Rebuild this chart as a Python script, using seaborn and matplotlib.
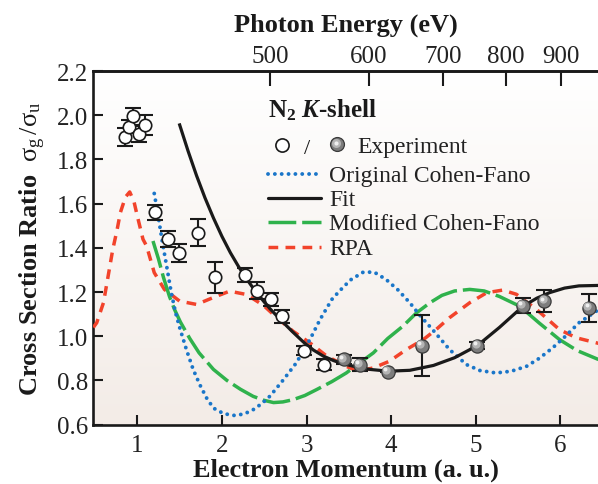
import numpy as np
import matplotlib
matplotlib.use("Agg")
import matplotlib.pyplot as plt
import matplotlib.transforms as mtrans
import seaborn as sns

# ---------------- data ----------------
open_k = [0.86, 0.90, 0.945, 1.015, 1.086, 1.212, 1.362, 1.487, 1.716, 1.92,
          2.274, 2.42, 2.577, 2.71, 2.97, 3.21]
open_v = [1.90, 1.948, 1.995, 1.915, 1.955, 1.56, 1.439, 1.378, 1.469, 1.268,
          1.277, 1.207, 1.167, 1.09, 0.935, 0.872]
open_err = [0.04, 0.03, 0.037, 0.038, 0.044, 0.036, 0.035, 0.04, 0.06, 0.07,
            0.03, 0.04, 0.03, 0.03, 0.02, 0.025]

filled_k = [3.44, 3.63, 3.96, 4.36, 5.02, 5.556, 5.81, 6.34]
filled_v = [0.895, 0.872, 0.839, 0.958, 0.958, 1.139, 1.159, 1.129]
filled_err = [0.02, 0.03, 0.0, 0.138, 0.015, 0.035, 0.05, 0.063]

fit_k = [1.495, 1.6, 1.7, 1.8, 1.9, 2.0, 2.1, 2.2, 2.27, 2.35, 2.42, 2.5,
         2.567, 2.705, 2.83, 2.96, 3.08, 3.2, 3.32, 3.43, 3.6, 3.75, 3.97,
         4.22, 4.5, 4.75, 5.02, 5.28, 5.556, 5.72, 5.87, 6.05, 6.22, 6.45]
fit_v = [1.963, 1.838, 1.727, 1.626, 1.535, 1.452, 1.378, 1.313, 1.272, 1.228,
         1.193, 1.155, 1.125, 1.07, 1.022, 0.975, 0.938, 0.91, 0.89, 0.876,
         0.86, 0.85, 0.842, 0.846, 0.868, 0.903, 0.958, 1.04, 1.135, 1.172,
         1.197, 1.218, 1.228, 1.23]

ocf_k = [1.20, 1.24, 1.29, 1.35, 1.40, 1.45, 1.50, 1.58, 1.66, 1.74, 1.82, 1.90,
         2.02, 2.14, 2.26, 2.37, 2.47, 2.57, 2.72, 2.88, 3.04, 3.16, 3.30, 3.39,
         3.52, 3.67, 3.80, 3.94, 4.08, 4.22, 4.35, 4.49, 4.69, 4.89, 5.05, 5.24,
         5.42, 5.60, 5.75, 5.91, 6.06, 6.22, 6.45]
ocf_v = [1.646, 1.56, 1.44, 1.31, 1.20, 1.11, 1.04, 0.94, 0.85, 0.78, 0.72,
         0.675, 0.65, 0.642, 0.648, 0.668, 0.695, 0.73, 0.80, 0.88, 0.985,
         1.076, 1.167, 1.205, 1.255, 1.29, 1.29, 1.257, 1.21, 1.152, 1.09,
         1.03, 0.94, 0.872, 0.845, 0.834, 0.842, 0.864, 0.90, 0.948, 1.0,
         1.061, 1.12]

mcf_k = [1.185, 1.25, 1.31, 1.38, 1.44, 1.51, 1.62, 1.73, 1.90, 2.06, 2.22,
         2.37, 2.50, 2.61, 2.72, 2.84, 2.98, 3.12, 3.30, 3.47, 3.63, 3.79, 3.96,
         4.14, 4.30, 4.46, 4.60, 4.75, 4.93, 5.10, 5.28, 5.52, 5.75, 5.99, 6.20,
         6.45]
mcf_v = [1.431, 1.35, 1.265, 1.18, 1.121, 1.064, 0.99, 0.925, 0.85, 0.80, 0.76,
         0.728, 0.71, 0.70, 0.703, 0.713, 0.732, 0.759, 0.795, 0.834, 0.88,
         0.925, 0.99, 1.046, 1.106, 1.152, 1.185, 1.205, 1.212, 1.205, 1.18,
         1.136, 1.06, 0.985, 0.935, 0.895]

rpa_k = [0.48, 0.52, 0.60, 0.655, 0.71, 0.76, 0.80, 0.86, 0.91, 0.96, 1.0, 1.067,
         1.11, 1.2, 1.32, 1.5, 1.7, 1.89, 2.09, 2.29, 2.49, 2.65, 2.84, 3.04,
         3.24, 3.47, 3.61, 3.79, 3.98, 4.18, 4.38, 4.53, 4.69, 4.93, 5.13, 5.32,
         5.48, 5.72, 5.99, 6.19, 6.45]
rpa_v = [1.04, 1.061, 1.152, 1.272, 1.393, 1.48, 1.56, 1.63, 1.653, 1.61, 1.544,
         1.439, 1.408, 1.288, 1.212, 1.159, 1.144, 1.174, 1.204, 1.189, 1.14,
         1.084, 1.023, 0.97, 0.91, 0.864, 0.842, 0.857, 0.887, 0.94, 0.985,
         1.03, 1.084, 1.152, 1.197, 1.209, 1.19, 1.121, 1.03, 0.993, 0.968]

yticks = [0.6, 0.8, 1.0, 1.2, 1.4, 1.6, 1.8, 2.0, 2.2]
xticks = [1, 2, 3, 4, 5, 6]
eticks = [500, 600, 700, 800, 900]

E_BIND = 409.9      # N 1s binding energy (eV)
HARTREE_HALF = 13.6057

# ---------------- style ----------------
sns.set_theme(style="ticks")
plt.rcParams["font.family"] = ["Liberation Serif", "DejaVu Serif"]
plt.rcParams["mathtext.fontset"] = "custom"
plt.rcParams["mathtext.rm"] = "Liberation Serif"
plt.rcParams["mathtext.it"] = "Liberation Serif:italic"
plt.rcParams["mathtext.bf"] = "Liberation Serif:bold"
plt.rcParams["mathtext.bfit"] = "Liberation Serif:italic:bold"

BLUE = "#1a76c9"
GREEN = "#2fb24c"
RED = "#f2432b"
BLACK = "#1a1a1a"

fig = plt.figure(figsize=(5.98, 4.85), dpi=100)
ax = fig.add_axes([0.1562, 0.1223, 0.8438, 0.7292])
ax.set_facecolor("none")

xmin, xmax, ymin, ymax = 0.481, 6.445, 0.6, 2.2
ax.set_xlim(xmin, xmax)
ax.set_ylim(ymin, ymax)

# gradient background
top_c = np.array([1.0, 1.0, 1.0])
bot_c = np.array([0.953, 0.925, 0.905])
t = np.linspace(0, 1, 256)[:, None]
grad = (top_c * (1 - t) + bot_c * t)[:, None, :]
ax.imshow(grad, extent=[xmin, xmax, ymin, ymax], aspect="auto", zorder=0,
          origin="upper", interpolation="bilinear")

# curves
def draw(kx, vy, color, lw, ls, cap="butt", z=2):
    sns.lineplot(x=kx, y=vy, ax=ax, color=color, sort=False, estimator=None,
                 zorder=z)
    ln = ax.lines[-1]
    ln.set_linewidth(lw)
    ln.set_linestyle(ls)
    ln.set_dash_capstyle(cap)
    ln.set_solid_capstyle("butt")
    ln.set_solid_joinstyle("round")
    return ln

draw(rpa_k, rpa_v, RED, 2.5, (0, (2.8, 2.1)), z=3)
draw(mcf_k, mcf_v, GREEN, 2.5, (0, (8.0, 1.7)), z=3)
draw(ocf_k, ocf_v, BLUE, 2.8, (0, (0.01, 1.75)), cap="round", z=3)
draw(fit_k, fit_v, BLACK, 2.3, "-", z=4)

# error bars
ax.errorbar(open_k, open_v, yerr=open_err, fmt="none", ecolor=BLACK,
            elinewidth=1.5, capsize=5.5, capthick=1.5, zorder=5)
ax.errorbar(filled_k, filled_v, yerr=filled_err, fmt="none", ecolor=BLACK,
            elinewidth=1.5, capsize=5.5, capthick=1.5, zorder=5)

# markers
sns.scatterplot(x=open_k, y=open_v, ax=ax, marker="o", s=80, color="white",
                edgecolor=BLACK, linewidth=1.2, zorder=6)
sns.scatterplot(x=filled_k, y=filled_v, ax=ax, marker="o", s=90,
                color="#7d7d7d", edgecolor="#3a3a3a", linewidth=0.9, zorder=6)
hl = mtrans.offset_copy(ax.transData, fig=fig, x=-1.2, y=1.2, units="points")
sns.scatterplot(x=filled_k, y=filled_v, ax=ax, marker="o", s=35,
                color="#b4b4b4", linewidth=0, zorder=7, transform=hl)
hl2 = mtrans.offset_copy(ax.transData, fig=fig, x=-1.8, y=1.8, units="points")
sns.scatterplot(x=filled_k, y=filled_v, ax=ax, marker="o", s=8,
                color="#efefef", linewidth=0, zorder=8, transform=hl2)

# axes styling
for s in ["left", "bottom", "top"]:
    ax.spines[s].set_linewidth(1.9)
    ax.spines[s].set_color(BLACK)
ax.spines["right"].set_visible(False)
ax.set_xticks(xticks)
ax.set_xticklabels([str(v) for v in xticks])
ax.set_yticks(yticks)
ax.set_yticklabels([f"{v:.1f}" for v in yticks])
ax.tick_params(axis="both", direction="in", length=7.5, width=1.5,
               labelsize=18, colors=BLACK, labelcolor="#222222")
ax.tick_params(axis="x", pad=7)
ax.tick_params(axis="y", pad=4)
ax.tick_params(top=False, right=False)

ax.set_xlabel("Electron Momentum (a. u.)", fontsize=19, fontweight="bold",
              labelpad=1, color=BLACK)
ax.set_ylabel(r"Cross Section Ratio  $\mathrm{\sigma_g\,/\sigma_u}$",
              fontsize=19, fontweight="bold", labelpad=6, color=BLACK)

def k2E(k):
    return E_BIND + HARTREE_HALF * np.asarray(k) ** 2

def E2k(E):
    return np.sqrt(np.clip(np.asarray(E, dtype=float) - E_BIND, 0, None) / HARTREE_HALF)

sec = ax.secondary_xaxis("top", functions=(k2E, E2k))
sec.set_xticks(eticks)
sec.set_xticklabels([str(e) for e in eticks])
sec.tick_params(direction="in", length=11, width=1.5, labelsize=18, pad=3,
                colors=BLACK, labelcolor="#222222")
sec.spines["top"].set_linewidth(1.9)
sec.set_xlabel("Photon Energy (eV)", fontsize=19, fontweight="bold",
               labelpad=10, color=BLACK)

# legend (manual)
tr = ax.transAxes
def fx(px):
    return (px - 93.4) / 504.6
def fy(py):
    return (425.7 - py) / 353.7

ax.text(fx(268), fy(110), r"$\mathbf{N}_\mathbf{2}$ $\mathbfit{K}$-shell",
        transform=tr, fontsize=18, fontweight="bold", va="center", ha="left",
        color=BLACK, zorder=10)
ax.plot([fx(281.7)], [fy(146)], transform=tr, marker="o", ms=9.5,
        mfc="white", mec=BLACK, mew=1.2, ls="none", zorder=10)
ax.text(fx(307), fy(149), "/", transform=tr, fontsize=16, ha="center",
        va="center", color=BLACK, zorder=10)
ax.plot([fx(337)], [fy(145)], transform=tr, marker="o", ms=10,
        mfc="#7d7d7d", mec="#3a3a3a", mew=0.9, ls="none", zorder=10)
ax.plot([fx(336)], [fy(144)], transform=tr, marker="o", ms=6.5,
        mfc="#b4b4b4", mew=0, ls="none", zorder=10)
ax.plot([fx(335.5)], [fy(143.5)], transform=tr, marker="o", ms=3,
        mfc="#efefef", mew=0, ls="none", zorder=10)
ax.text(fx(357), fy(147), "Experiment", transform=tr, fontsize=17,
        va="center", ha="left", color="#222222", zorder=10)

rows = [
    (174.5, BLUE, 2.8, (0, (0.01, 1.75)), "round", "Original Cohen-Fano"),
    (198.5, BLACK, 2.3, "-", "butt", "Fit"),
    (222.5, GREEN, 2.5, (0, (8.0, 1.7)), "butt", "Modified Cohen-Fano"),
    (247.5, RED, 2.5, (0, (2.8, 2.1)), "butt", "RPA"),
]
for py, c, lw, ls, cap, lab in rows:
    ln, = ax.plot([fx(268), fx(321)], [fy(py), fy(py)], transform=tr, color=c,
                  lw=lw, ls=ls, zorder=10)
    ln.set_dash_capstyle(cap)
    ax.text(fx(329), fy(py + 1.5), lab, transform=tr, fontsize=17,
            va="center", ha="left", color="#222222", zorder=10)

fig.savefig("out.png", dpi=100)
